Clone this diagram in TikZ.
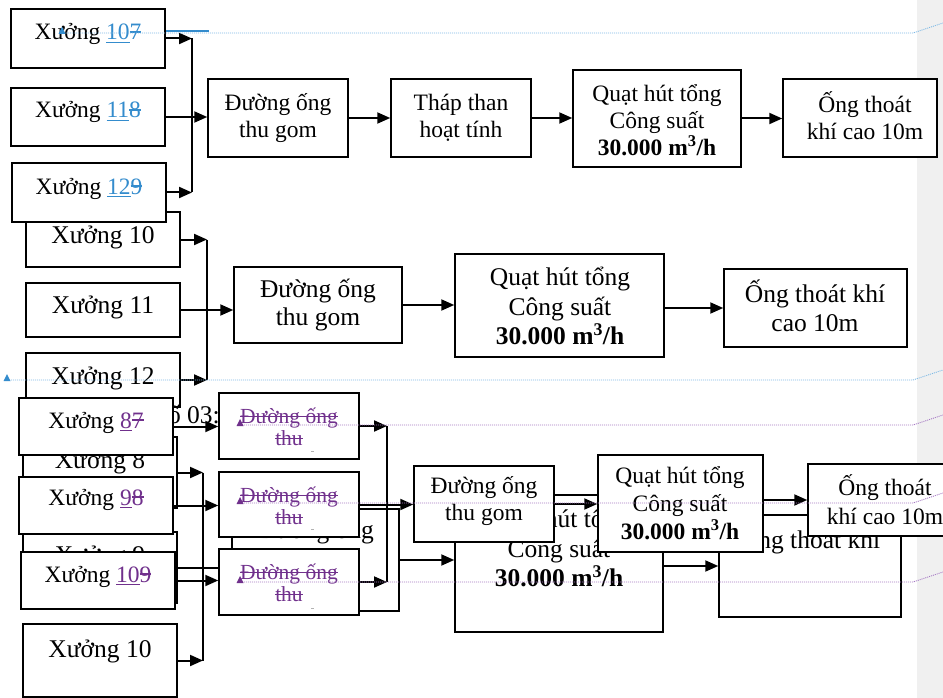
\documentclass[tikz,border=0pt]{standalone}
\usepackage{fontspec}
\setmainfont{Liberation Serif}
\usetikzlibrary{arrows.meta,fit}

\definecolor{insblue}{RGB}{52,140,205}
\definecolor{insviolet}{RGB}{112,48,140}
\definecolor{trackblue}{RGB}{125,185,230}
\definecolor{trackviolet}{RGB}{165,120,195}
\definecolor{marginfill}{RGB}{240,240,240}

% revision marks: inserted text is underlined, deleted text is struck out
\newcommand{\undl}[1]{\setbox0\hbox{#1}\rlap{\raisebox{-0.14em}{\rule{\wd0}{0.055em}}}\box0}
\newcommand{\strk}[1]{\setbox0\hbox{#1}\rlap{\raisebox{0.3em}{\rule{\wd0}{0.07em}}}\box0}
% small anchor triangle at the start of a change bar
\newcommand{\revmark}[3]{\fill[#1] (#2-3.5,#3+1) -- (#2+3.5,#3+1) -- (#2,#3-6) -- cycle;}

\begin{document}
\begin{tikzpicture}[x=1pt, y=-1pt,
  boxn/.style={draw, line width=1.5pt, fill=white, inner sep=0pt},
  flow/.style={line width=2pt, -{Triangle[length=13pt,width=11pt]}},
  wire/.style={line width=1.6pt},
  txt/.style={inner sep=0pt, align=center, font={\fontsize{23.5}{27}\selectfont}},
  txtbig/.style={inner sep=0pt, align=center, font={\fontsize{25.5}{29.5}\selectfont}},
  txtdel/.style={inner sep=0pt, align=center, font={\fontsize{21.5}{22}\selectfont}, text=insviolet},
  trackB/.style={trackblue, line width=0.9pt, dash pattern=on 1pt off 1pt},
  trackV/.style={trackviolet, line width=0.9pt, dash pattern=on 1pt off 1pt}]

\clip (0,0) rectangle (943,698);
\fill[white] (0,0) rectangle (943,698);
\fill[marginfill] (917,0) rectangle (943,698);

% ---------- second line: workshops 10-12 ----------
\node[boxn, fit={(26,212) (180,267)}] (m10) {};
\node[boxn, fit={(26,283) (180,337)}] (m11) {};
\node[boxn, fit={(26,353) (180,407)}] (m12) {};
\node[txtbig, anchor=base] (lm10) at (103,243) {Xưởng 10};
\node[txtbig, anchor=base] (lm11) at (103,313) {Xưởng 11};
\node[txtbig, anchor=base] (lm12) at (103,384) {Xưởng 12};

% ---------- first line: workshops 107, 118, 129 ----------
\node[boxn, fit={(11,9) (165,68)}] (w107) {};
\node[boxn, fit={(11,88) (165,146)}] (w118) {};
\node[boxn, fit={(12,163) (166,222)}] (w129) {};
\node[txt, anchor=base] (l107) at (88,40) {Xưởng {\color{insblue}\undl{10}\strk{7}}};
\node[txt, anchor=base] (l118) at (88,118) {Xưởng {\color{insblue}\undl{11}\strk{8}}};
\node[txt, anchor=base] (l129) at (89,194) {Xưởng {\color{insblue}\undl{12}\strk{9}}};

\node[boxn, fit={(208,79) (348,157)}] (pipeT) {};
\node[boxn, fit={(391,79) (531,157)}] (towerT) {};
\node[boxn, fit={(573,70) (741,167)}] (fanT) {};
\node[boxn, fit={(783,79) (937,157)}] (stackT) {};
\node[txt] (lpipeT) at (278,118) {Đường ống\\thu gom};
\node[txt] (ltowerT) at (461,118) {Tháp than\\hoạt tính};
\node[txt] (lfanT) at (657,120) {Quạt hút tổng\\Công suất\\\textbf{30.000 m\textsuperscript{3}/h}};
\node[txt] (lstackT) at (865,116) {Ống thoát\\khí cao 10m};

\coordinate (tcol) at (192,0);
\draw[flow] (w107.east) -- (w107.east -| tcol);
\draw[flow] (w129.east) -- (w129.east -| tcol);
\draw[wire] (w107.east -| tcol) -- (w129.east -| tcol);
\draw[flow] (w118.east) -- (w118.east -| pipeT.west);
\draw[flow] (pipeT.east) -- (towerT.west);
\draw[flow] (towerT.east) -- (towerT.east -| fanT.west);
\draw[flow] (fanT.east) -- (fanT.east -| stackT.west);

% ---------- second line: treatment chain ----------
\node[boxn, fit={(234,267) (402,343)}] (pipeM) {};
\node[boxn, fit={(455,254) (664,357)}] (fanM) {};
\node[boxn, fit={(724,269) (907,347)}] (stackM) {};
\node[txtbig, font={\fontsize{25.5}{27.5}\selectfont}] (lpipeM) at (318,305) {Đường ống\\thu gom};
\node[txtbig] (lfanM) at (560,306) {Quạt hút tổng\\Công suất\\\textbf{30.000 m\textsuperscript{3}/h}};
\node[txtbig] (lstackM) at (815,306) {Ống thoát khí\\cao 10m};

\coordinate (mcol) at (207,0);
\draw[flow] (m10.east) -- (m10.east -| mcol);
\draw[flow] (m12.east) -- (m12.east -| mcol);
\draw[wire] (m10.east -| mcol) -- (m12.east -| mcol);
\draw[flow] (m11.east) -- (m11.east -| pipeM.west);
\draw[flow] (pipeM.east) -- (pipeM.east -| fanM.west);
\draw[flow] (stackM.west -| fanM.east) -- (stackM.west);

% ---------- third line, earlier version (underneath) ----------
\node[txtbig, anchor=base east] (cap03) at (220,423) {số 03:};
\node[boxn, fit={(23,437) (177,508)}] (oX8) {};
\node[boxn, fit={(23,532) (177,603)}] (oX9) {};
\node[boxn, fit={(23,624) (177,697)}] (oX10) {};
\node[txtbig, anchor=base] (loX8) at (100,468) {Xưởng 8};
\node[txtbig, anchor=base] (loX9) at (100,563) {Xưởng 9};
\node[txtbig, anchor=base] (loX10) at (100,657) {Xưởng 10};

\node[boxn, fit={(232,509) (399,611)}] (oPipe) {};
\node[boxn, fit={(455,495) (663,632)}] (oFan) {};
\node[boxn, fit={(719,515) (901,617)}] (oStack) {};
\node[txtbig] (loPipe) at (316,547) {Đường ống\\thu gom};
\node[txtbig] (loFan) at (559,548) {Quạt hút tổng\\Công suất\\\textbf{30.000 m\textsuperscript{3}/h}};
\node[txtbig, anchor=base] (loStack) at (810,548) {Ống thoát khí};

\coordinate (ocol) at (203,0);
\draw[flow] (oX8.east) -- (oX8.east -| ocol);
\draw[flow] (oX10.east) -- (oX10.east -| ocol);
\draw[wire] (oX8.east -| ocol) -- (oX10.east -| ocol);
\draw[flow] (oX9.east) -- (oX9.east -| oPipe.west);
\draw[flow] (oPipe.east) -- (oPipe.east -| oFan.west);
\draw[flow] (oStack.west -| oFan.east) -- (oStack.west);

% ---------- third line, revised version (on top) ----------
\node[boxn, fit={(19,398) (173,455)}] (nX87) {};
\node[boxn, fit={(19,477) (173,534)}] (nX98) {};
\node[boxn, fit={(21,552) (175,609)}] (nX109) {};
\node[txt, anchor=base] (lnX87) at (96,428) {Xưởng {\color{insviolet}\undl{8}\strk{7}}};
\node[txt, anchor=base] (lnX98) at (96,505) {Xưởng {\color{insviolet}\undl{9}\strk{8}}};
\node[txt, anchor=base] (lnX109) at (98,582) {Xưởng {\color{insviolet}\undl{10}\strk{9}}};

\node[boxn, fit={(219,393) (359,459)}] (nD1) {};
\node[boxn, fit={(219,472) (359,537)}] (nD2) {};
\node[boxn, fit={(219,549) (359,615)}] (nD3) {};
\node[txtdel] (lnD1) at (289,427) {\strk{Đường ống}\\\strk{thu}};
\node[txtdel] (lnD2) at (289,506) {\strk{Đường ống}\\\strk{thu}};
\node[txtdel] (lnD3) at (289,583) {\strk{Đường ống}\\\strk{thu}};
\foreach \y in {451,529,608} \draw[gray!60, line width=0.8pt] (311,\y) -- (314,\y);

\node[boxn, fit={(414,466) (554,542)}] (nPipe) {};
\node[boxn, fit={(598,455) (763,552)}] (nFan) {};
\node[boxn, fit={(808,464) (962,536)}] (nStack) {};
\node[txt] (lnPipe) at (484,501) {Đường ống\\thu gom};
\node[txt, font={\fontsize{23.5}{28}\selectfont}] (lnFan) at (680,503) {Quạt hút tổng\\Công suất\\\textbf{30.000 m\textsuperscript{3}/h}};
\node[txt, font={\fontsize{23.5}{29}\selectfont}] (lnStack) at (885,500) {Ống thoát\\khí cao 10m};

\coordinate (ncol) at (387,0);
\draw[flow] (nX87.east) -- (nX87.east -| nD1.west);
\draw[flow] (nX98.east) -- (nX98.east -| nD2.west);
\draw[flow] (nX109.east) -- (nX109.east -| nD3.west);
\draw[flow] (nD1.east) -- (nD1.east -| ncol);
\draw[flow] (nD3.east) -- (nD3.east -| ncol);
\draw[wire] (nD1.east -| ncol) -- (nD3.east -| ncol);
\draw[flow] (nD2.east) -- (nD2.east -| nPipe.west);
\draw[flow] (nPipe.east) -- (nPipe.east -| nFan.west);
\draw[flow] (nStack.west -| nFan.east) -- (nStack.west);

% ---------- change bars ----------
\draw[trackB] (62,33) -- (913,33) -- (943,23);
\draw[insblue, line width=2pt] (166,31) -- (209,31);
\revmark{insblue}{62}{33}
\draw[trackB] (7,380) -- (913,380) -- (943,370);
\revmark{insblue}{7}{380}
\foreach \y in {425,503,582} {
  \draw[trackV] (240,\y) -- (913,\y) -- (943,\y-10);
  \revmark{insviolet}{240}{\y}
}
\end{tikzpicture}
\end{document}
